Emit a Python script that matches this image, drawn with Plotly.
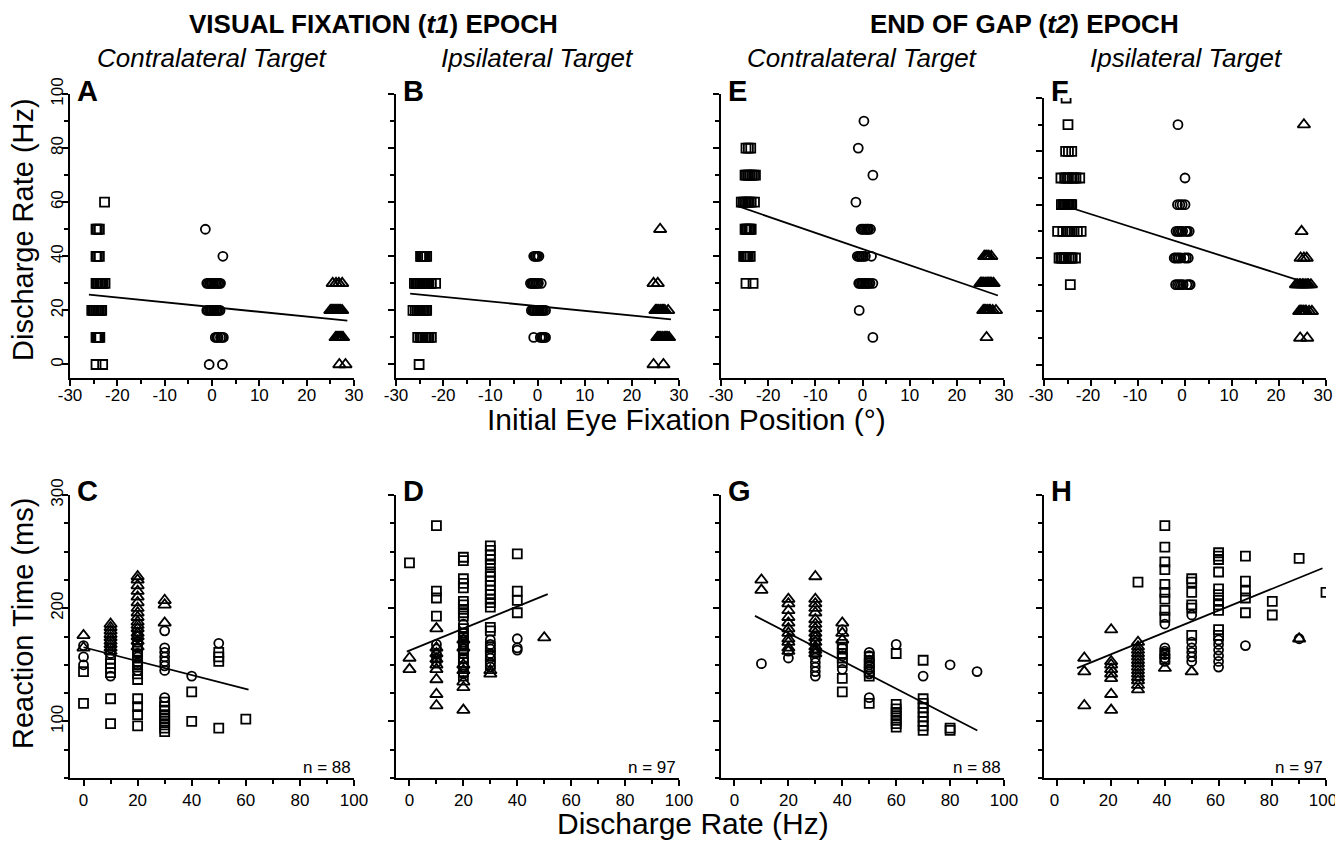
import plotly.graph_objects as go

# page body has an 8px margin: the figure is drawn from screen (8, 8)
OFF = 8
W, H = 1343 - OFF, 844 - OFF
FONT = "Liberation Sans, Arial, Helvetica, sans-serif"

# ---------------- tick labels
pos_tickvals = [-30, -20, -10, 0, 10, 20, 30]
pos_ticktext = ["-30", "-20", "-10", "0", "10", "20", "30"]
rate_tickvals = [0, 20, 40, 60, 80, 100]
rt_tickvals = [100, 200, 300]

# ---------------- Panel A : t1, contralateral target (rate vs eye position)
A_sq_x = [-22.7,
          -24.5, -24.2, -23.8,
          -24.5, -24.2, -23.8,
          -24.5, -24.2, -24.0, -23.7, -23.5, -23.2, -23.0, -22.6,
          -25.4, -25.1, -24.9, -24.6, -24.4, -24.1, -23.8, -23.5, -23.3,
          -24.5, -24.3, -24.1, -23.9, -23.7,
          -24.5, -23.1]
A_sq_y = [60] + [50] * 3 + [40] * 3 + [30] * 8 + [20] * 9 + [10] * 5 + [0] * 2
A_ci_x = [-1.4, 2.3,
          -1.1, -0.8, -0.5, -0.2, 0.0, 0.3, 0.6, 0.9, 1.2, 1.5, 1.8,
          -1.1, -0.8, -0.5, -0.2, 0.0, 0.3, 0.5, 0.8, 1.1, 1.4, 1.7,
          0.7, 1.0, 1.3, 1.8, 2.1, 2.4,
          -0.6, 2.2]
A_ci_y = [50, 40] + [30] * 11 + [20] * 11 + [10] * 6 + [0] * 2
A_tr_x = [25.5, 26.2, 26.8, 27.5,
          25.0, 25.2, 25.4, 25.6, 25.8, 26.0, 26.2, 26.4, 26.6, 26.8, 27.0, 27.2, 27.5,
          26.1, 26.3, 26.5, 26.7, 26.9, 27.1, 27.3, 27.5, 27.7,
          26.9, 28.2]
A_tr_y = [30] * 4 + [20] * 13 + [10] * 9 + [0] * 2
A_fit_x = [-26.0, 28.6]
A_fit_y = [25.8, 16.2]

# ---------------- Panel B : t1, ipsilateral target
B_sq_x = [-24.8, -24.6, -24.4, -24.2, -24.0, -23.8, -23.5,
          -26.1, -25.8, -25.6, -25.3, -25.0, -24.8, -24.5, -24.3, -24.0, -23.8, -23.5, -23.2,
          -23.0, -22.5, -21.6,
          -26.4, -25.9, -25.5, -25.2, -24.9, -24.6, -24.3, -24.0, -23.7, -23.5,
          -25.4, -24.9, -24.6, -24.3, -23.9, -23.6, -23.3, -23.0, -22.5,
          -25.1]
B_sq_y = [40] * 7 + [30] * 15 + [20] * 10 + [10] * 9 + [0]
B_ci_x = [-0.8, -0.5, -0.3, 0.0, 0.3,
          -1.5, -1.2, -1.0, -0.7, -0.4, -0.1, 0.2, 0.8,
          -1.3, -1.0, -0.8, -0.5, -0.2, 0.1, 0.4, 0.7, 1.0, 1.3, 1.7,
          -0.8, 0.6, 0.9, 1.1, 1.4, 1.7]
B_ci_y = [40] * 5 + [30] * 8 + [20] * 11 + [10] * 6
B_tr_x = [26.0,
          24.6, 25.5,
          25.0, 25.2, 25.5, 25.7, 26.0, 26.2, 26.5, 26.7, 27.0, 27.7,
          25.4, 25.6, 25.9, 26.1, 26.4, 26.6, 26.9, 27.1, 27.4, 27.6, 27.9,
          24.6, 26.7]
B_tr_y = [50] + [30] * 2 + [20] * 10 + [10] * 11 + [0] * 2
B_fit_x = [-27.0, 28.3]
B_fit_y = [26.2, 16.7]

# ---------------- Panel E : t2, contralateral target
E_sq_x = [-24.7, -24.2, -23.7,
          -24.9, -24.6, -24.2, -23.9, -23.5, -23.1, -22.7,
          -25.7, -25.3, -25.0, -24.6, -24.3, -24.0, -23.6, -22.9,
          -24.9, -24.7, -24.4, -24.1, -23.9, -23.6,
          -25.2, -24.9, -24.7, -24.4, -24.2, -23.8,
          -24.7, -23.2]
E_sq_y = [80] * 3 + [70] * 7 + [60] * 8 + [50] * 6 + [40] * 6 + [30] * 2
E_ci_x = [0.3, -0.9, 2.2, -1.4,
          -0.3, 0.0, 0.3, 0.6, 0.9, 1.1, 1.3, 1.7,
          -1.1, -0.8, -0.6, -0.3, -0.1, 0.2, 0.6, 1.9,
          -0.8, -0.5, -0.2, 0.1, 0.4, 0.7, 1.0, 1.3, 1.6, 2.2,
          -0.7, 2.2]
E_ci_y = [90, 80, 70, 60] + [50] * 8 + [40] * 8 + [30] * 10 + [20, 10]
E_tr_x = [25.8, 26.0, 26.3, 26.6, 26.8, 27.3,
          25.0, 25.2, 25.5, 25.7, 26.0, 26.2, 26.5, 26.7, 27.0, 27.2, 27.4, 27.8,
          25.6, 25.9, 26.1, 26.4, 26.6, 26.9, 27.1, 27.6, 28.3,
          26.3]
E_tr_y = [40] * 6 + [30] * 12 + [20] * 9 + [10]
E_fit_x = [-26.7, 28.7]
E_fit_y = [58.7, 25.5]

# ---------------- Panel F : t2, ipsilateral target
F_sq_x = [-25.3, -24.9,
          -25.4, -24.8, -24.1,
          -26.4, -25.6, -25.2, -24.8, -24.0, -23.6, -23.2, -22.4,
          -26.3, -26.0, -25.8, -25.5, -25.2, -24.9, -24.6, -24.3, -24.1,
          -27.1, -26.0, -25.2, -24.8, -24.4, -23.6, -22.9, -22.1,
          -26.8, -26.4, -26.1, -25.7, -25.4, -24.7, -24.3, -24.0, -23.3,
          -24.4]
F_sq_y = [100, 90] + [80] * 3 + [70] * 8 + [60] * 9 + [50] * 8 + [40] * 9 + [30]
F_ci_x = [-1.5, 0.0,
          -1.6, -1.1, -0.6, 0.0,
          -1.9, -1.5, -1.2, -0.8, -0.5, 0.2, 0.5, 0.9,
          -2.3, -2.0, -1.6, -1.3, -0.9, -0.1, 0.3, 0.7,
          -2.0, -1.6, -1.2, -0.8, -0.4, 0.4, 0.8, 1.1]
F_ci_y = [90, 70] + [60] * 4 + [50] * 8 + [40] * 8 + [30] * 8
F_tr_x = [25.3, 24.8,
          24.6, 25.3, 25.9,
          23.6, 23.9, 24.3, 24.6, 25.0, 25.3, 25.7, 26.0, 26.3, 26.8,
          24.3, 24.6, 24.8, 25.1, 25.3, 25.6, 25.8, 26.4, 27.0,
          24.5, 26.0]
F_tr_y = [90, 50] + [40] * 3 + [30] * 10 + [20] * 9 + [10] * 2
F_fit_x = [-25.5, 25.7]
F_fit_y = [59.5, 30.8]

# ---------------- Panel C : t1, contralateral (RT vs discharge rate)
C_sq_x = [0, 0, 10, 10, 10, 10, 10, 10,
          20, 20, 20, 20, 20, 20, 20, 20, 20, 20, 20, 20, 20, 20,
          30, 30, 30, 30, 30, 30, 30, 30, 30, 40, 40, 50, 50, 50, 50, 60]
C_sq_y = [144, 116, 155, 151, 147, 143, 120, 98,
          178, 172, 167, 162, 158, 153, 150, 148, 142, 137, 120, 113, 106, 96,
          117, 113, 110, 106, 103, 100, 97, 94, 91, 126, 100, 161, 157, 153, 94, 102]
C_ci_x = [0, 0, 0, 10, 10, 10, 10, 20, 20, 20, 20, 20, 20, 20, 20,
          30, 30, 30, 30, 30, 30, 30, 30, 40, 50]
C_ci_y = [167, 157, 150, 170, 165, 160, 140, 175, 170, 165, 160, 157, 152, 150, 145,
          180, 165, 161, 157, 153, 149, 145, 121, 140, 169]
C_tr_x = [0, 0, 10, 10, 10, 10, 10, 10, 10, 10, 10,
          20, 20, 20, 20, 20, 20, 20, 20, 20, 20, 20, 20, 20, 20, 20, 20,
          30, 30, 30]
C_tr_y = [176, 165, 186, 183, 180, 177, 174, 171, 168, 165, 162,
          228, 225, 220, 215, 210, 205, 200, 196, 192, 188, 185, 182, 178, 175, 171, 166,
          207, 203, 187]
C_fit_x = [0, 61]
C_fit_y = [165.5, 128]

# ---------------- Panel D : t1, ipsilateral
D_sq_x = [0, 10, 10, 10, 10] + [20] * 22 + [30] * 19 + [40] * 4
D_sq_y = [240, 273, 215, 209, 193,
          245, 242, 226, 222, 218, 206, 203, 199, 196, 193, 182, 178, 175, 172, 168, 164,
          160, 156, 152, 148, 144, 140,
          255, 251, 247, 243, 238, 232, 228, 224, 220, 216, 212, 208, 205, 201, 183, 180,
          166, 158, 150,
          248, 215, 207, 196]
D_ci_x = [10] * 5 + [20] * 7 + [30] * 7 + [40] * 3
D_ci_y = [168, 164, 160, 156, 152,
          186, 178, 170, 162, 155, 148, 142,
          172, 168, 164, 160, 156, 152, 148,
          173, 165, 163]
D_tr_x = [0, 0] + [10] * 9 + [20] * 7 + [30] * 2 + [50]
D_tr_y = [156, 146,
          182, 165, 160, 155, 150, 146, 137, 124, 114,
          172, 165, 150, 145, 135, 130, 110,
          145, 142, 174]
D_fit_x = [-1, 51.3]
D_fit_y = [161.7, 212.4]

# ---------------- Panel G : t2, contralateral
G_sq_x = [40] * 7 + [50] * 6 + [60] * 8 + [70] * 9 + [80] * 2
G_sq_y = [168, 164, 160, 156, 152, 138, 126,
          157, 152, 148, 144, 140, 116,
          160, 115, 111, 108, 105, 101, 98, 95,
          154, 120, 116, 112, 108, 104, 100, 96, 92,
          94, 92]
G_ci_x = [10, 20, 20] + [30] * 9 + [40] * 4 + [50] * 7 + [60, 70, 80, 90]
G_ci_y = [151, 156, 162,
          175, 170, 165, 160, 156, 152, 148, 144, 140,
          181, 165, 158, 146,
          161, 158, 154, 150, 146, 142, 121,
          168, 140, 150, 144]
G_tr_x = [10, 10] + [20] * 11 + [30] * 14 + [40] * 3
G_tr_y = [225, 216,
          208, 204, 198, 192, 187, 182, 178, 173, 170, 165, 162,
          228, 208, 204, 200, 196, 190, 186, 182, 178, 174, 170, 166, 163, 160,
          187, 178, 172]
G_fit_x = [7.6, 90.1]
G_fit_y = [193.2, 92]

# ---------------- Panel H : t2, ipsilateral
H_sq_x = [30] + [40] * 11 + [50] * 6 + [60] * 11 + [70] * 5 + [80, 80, 90, 100]
H_sq_y = [223,
          273, 254, 241, 234, 221, 214, 208, 198, 192, 160, 155,
          226, 223, 214, 203, 200, 176,
          249, 246, 243, 232, 217, 212, 207, 203, 198, 181, 176,
          246, 224, 215, 209, 196,
          206, 194, 244, 214]
H_ci_x = [40] * 6 + [50] * 6 + [60] * 6 + [70, 90]
H_ci_y = [186, 165, 162, 159, 156, 153,
          194, 170, 165, 161, 157, 153,
          172, 168, 163, 158, 153, 148,
          167, 173]
H_tr_x = [10] * 3 + [20] * 8 + [30] * 14 + [40, 50, 90]
H_tr_y = [156, 144, 114,
          181, 153, 150, 146, 142, 138, 124, 110,
          170, 166, 163, 160, 157, 154, 151, 148, 145, 142, 139, 136, 132, 128,
          147, 144, 173]
H_fit_x = [7.3, 98.7]
H_fit_y = [147, 235.3]

panels = [
    (A_sq_x, A_sq_y, A_ci_x, A_ci_y, A_tr_x, A_tr_y, A_fit_x, A_fit_y),
    (B_sq_x, B_sq_y, B_ci_x, B_ci_y, B_tr_x, B_tr_y, B_fit_x, B_fit_y),
    (E_sq_x, E_sq_y, E_ci_x, E_ci_y, E_tr_x, E_tr_y, E_fit_x, E_fit_y),
    (F_sq_x, F_sq_y, F_ci_x, F_ci_y, F_tr_x, F_tr_y, F_fit_x, F_fit_y),
    (C_sq_x, C_sq_y, C_ci_x, C_ci_y, C_tr_x, C_tr_y, C_fit_x, C_fit_y),
    (D_sq_x, D_sq_y, D_ci_x, D_ci_y, D_tr_x, D_tr_y, D_fit_x, D_fit_y),
    (G_sq_x, G_sq_y, G_ci_x, G_ci_y, G_tr_x, G_tr_y, G_fit_x, G_fit_y),
    (H_sq_x, H_sq_y, H_ci_x, H_ci_y, H_tr_x, H_tr_y, H_fit_x, H_fit_y),
]

# ---------------- layout geometry (screen pixels)
cols_px = [(70, 354), (396, 679), (721, 1004), (1044, 1326)]
top_px = (94, 378)
top_px_F = (98, 378)
bot_px = (495, 778)


def fx_(px):
    return (px - OFF) / W


def fy_(py):
    return 1 - (py - OFF) / H


def xdom(c):
    return [fx_(c[0]), fx_(c[1])]


def ydom(r):
    return [fy_(r[1]), fy_(r[0])]


fig = go.Figure()
marker_line = dict(color="black", width=1.8)
for i, (sx, sy, cx, cy, tx, ty, lx, ly) in enumerate(panels):
    xa = "x" if i == 0 else f"x{i + 1}"
    ya = "y" if i == 0 else f"y{i + 1}"
    fig.add_trace(go.Scatter(x=sx, y=sy, mode="markers", xaxis=xa, yaxis=ya,
                             marker=dict(symbol="square-open", size=9, color="black", line=marker_line)))
    fig.add_trace(go.Scatter(x=cx, y=cy, mode="markers", xaxis=xa, yaxis=ya,
                             marker=dict(symbol="circle-open", size=9, color="black", line=marker_line)))
    fig.add_trace(go.Scatter(x=tx, y=ty, mode="markers", xaxis=xa, yaxis=ya,
                             marker=dict(symbol="triangle-up-open", size=11, color="black", line=marker_line)))
    fig.add_trace(go.Scatter(x=lx, y=ly, mode="lines", xaxis=xa, yaxis=ya,
                             line=dict(color="black", width=1.8)))

tickfont = dict(family=FONT, size=17, color="black")
axis_common = dict(showline=True, linecolor="black", linewidth=2, ticks="outside",
                   ticklen=6, tickwidth=2, tickcolor="black", showgrid=False,
                   zeroline=False, tickfont=tickfont, fixedrange=True, automargin=False,
                   ticklabeloverflow="allow")

layout = dict(width=W, height=H, margin=dict(l=0, r=0, t=0, b=0, pad=0, autoexpand=False),
              paper_bgcolor="white", plot_bgcolor="white", showlegend=False)


def minor(dt):
    return dict(ticks="outside", dtick=dt, tick0=0, ticklen=4, tickwidth=2,
                tickcolor="black", showgrid=False)


for i in range(8):
    n = "" if i == 0 else str(i + 1)
    col = cols_px[i % 4]
    shift = -3 if i % 4 == 3 else 0
    if i < 4:
        rows = top_px_F if i == 3 else top_px
        xcfg = dict(range=[-30, 30], tickmode="array", tickvals=pos_tickvals,
                    ticktext=pos_ticktext, minor=minor(5), ticklabelstandoff=-5,
                    ticklabelshift=shift)
        ycfg = dict(range=[-5, 100], tick0=0, dtick=20, tickangle=-90,
                    showticklabels=(i == 0), minor=minor(10), ticklabelstandoff=-8)
    else:
        rows = bot_px
        xcfg = dict(range=[-5, 100], tickmode="array", tickvals=rate_tickvals, minor=minor(10),
                    ticklabelshift=shift)
        ycfg = dict(range=[50, 300], tickmode="array", tickvals=rt_tickvals, tickangle=-90,
                    showticklabels=(i == 4), minor=minor(25), ticklabelstandoff=-8)
    layout["xaxis" + n] = dict(domain=xdom(col), anchor="y" + n, **axis_common, **xcfg)
    layout["yaxis" + n] = dict(domain=ydom(rows), anchor="x" + n, **axis_common, **ycfg)

fig.update_layout(**layout)


def ann(text, px, py, size, xanchor="center", yanchor="middle", angle=0):
    fig.add_annotation(text=text, x=fx_(px), y=fy_(py), xref="paper", yref="paper",
                       showarrow=False, xanchor=xanchor, yanchor=yanchor, textangle=angle,
                       font=dict(family=FONT, size=size, color="black"))


ann("<b>VISUAL FIXATION (<i>t1</i>) EPOCH</b>", 373, 24, 26)
ann("<b>END OF GAP (<i>t2</i>) EPOCH</b>", 1024, 24, 26)
for cx, label in zip([212, 537.5, 862.5, 1186],
                     ["Contralateral Target", "Ipsilateral Target",
                      "Contralateral Target", "Ipsilateral Target"]):
    ann(f"<i>{label}</i>", cx, 58, 26)

letters_top = ["A", "B", "E", "F"]
letters_bot = ["C", "D", "G", "H"]
for (c0, c1), lt, lb in zip(cols_px, letters_top, letters_bot):
    ann(f"<b>{lt}</b>", c0 + 5, 91, 29, xanchor="left")
    ann(f"<b>{lb}</b>", c0 + 5, 491, 29, xanchor="left")

for (c0, c1), txt in zip(cols_px, ["n = 88", "n = 97", "n = 88", "n = 97"]):
    ann(txt, c1 - 1, 767, 17, xanchor="right")

ann("Discharge Rate (Hz)", 23, 230, 29, angle=-90)
ann("Reaction Time (ms)", 23, 624, 29, angle=-90)
ann("Initial Eye Fixation Position (°)", 686, 419, 30)
ann("Discharge Rate (Hz)", 693, 823, 30)

fig.write_html("out.html")
